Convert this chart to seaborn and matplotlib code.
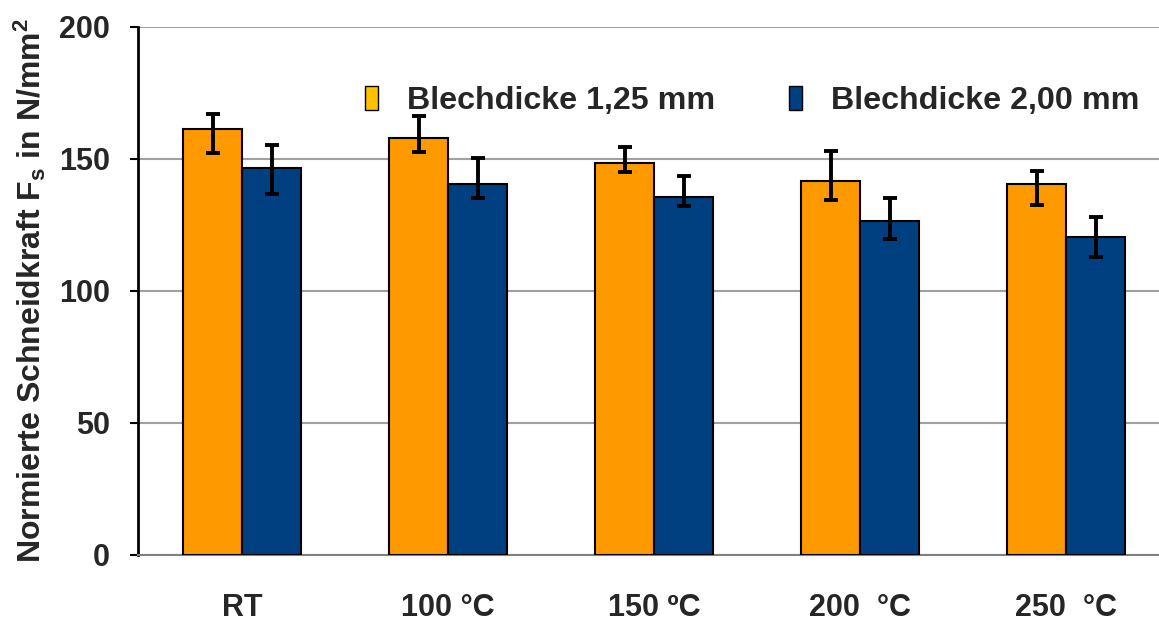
import numpy as np
import pandas as pd
import matplotlib
matplotlib.use("Agg")
import matplotlib.pyplot as plt
from matplotlib.patches import Patch
import seaborn as sns

# ---- data ----
categories = ["RT", "100 °C", "150 ºC", "200  °C", "250  °C"]
series_names = ["Blechdicke 1,25 mm", "Blechdicke 2,00 mm"]
vals_125 = [161.4, 158.1, 148.4, 141.7, 140.5]
hi_125 = [167.0, 166.3, 154.5, 152.9, 145.3]
lo_125 = [152.3, 152.8, 145.0, 134.6, 132.7]
vals_200 = [146.5, 140.5, 135.5, 126.6, 120.6]
hi_200 = [155.3, 150.3, 143.6, 135.3, 128.0]
lo_200 = [136.9, 135.2, 132.2, 119.6, 112.7]
yticks = [0, 50, 100, 150, 200]

bar_colors = ["#FF9900", "#003F80"]
legend_colors = ["#FFC000", "#003F80"]

sns.set_theme(style="white")
plt.rcParams["font.family"] = ["Liberation Sans", "DejaVu Sans"]
plt.rcParams["font.weight"] = "bold"
plt.rcParams["mathtext.fontset"] = "custom"
plt.rcParams["mathtext.rm"] = "Liberation Sans:bold"
plt.rcParams["mathtext.bf"] = "Liberation Sans:bold"
plt.rcParams["mathtext.it"] = "Liberation Sans:bold"
plt.rcParams["mathtext.default"] = "bf"

df = pd.DataFrame({
    "Temperatur": categories * 2,
    "Kraft": vals_125 + vals_200,
    "Serie": [series_names[0]] * 5 + [series_names[1]] * 5,
})

fig = plt.figure(figsize=(11.59, 6.21), dpi=100)
ax = fig.add_axes([138 / 1159, 1 - 555 / 621, (1159 - 138) / 1159, (555 - 27) / 621])

sns.barplot(data=df, x="Temperatur", y="Kraft", hue="Serie", order=categories,
            hue_order=series_names, palette=bar_colors, width=0.573,
            edgecolor="black", linewidth=1.5, errorbar=None, saturation=1,
            legend=False, ax=ax, zorder=3)

for cont, v, lo, hi in zip(ax.containers, [vals_125, vals_200], [lo_125, lo_200], [hi_125, hi_200]):
    xs = [b.get_x() + b.get_width() / 2 for b in cont]
    v = np.array(v); lo = np.array(lo); hi = np.array(hi)
    ax.errorbar(xs, v, yerr=[v - lo, hi - v], fmt="none", ecolor="black",
                elinewidth=2.8, capsize=5, capthick=2.8, zorder=4)

ax.set_ylim(0, 200)
ax.set_xlim(-0.505, 4.45)
ax.set_yticks(yticks)
ax.set_yticklabels([str(t) for t in yticks], fontsize=22, fontweight="bold")
ax.tick_params(axis="y", direction="out", length=6, width=1.5, color="black", pad=14, left=True)
ax.tick_params(axis="x", length=0, pad=27, labelsize=22)
for lab in ax.get_xticklabels():
    lab.set_fontweight("bold")
ax.set_xlabel("")
ax.set_ylabel(r"Normierte Schneidkraft F$_\mathbf{s}$ in N/mm$^\mathbf{2}$",
              fontsize=23, fontweight="bold", labelpad=8)

ax.yaxis.grid(True, color="#A0A0A0", linewidth=1.5, zorder=0)
ax.set_axisbelow(True)
for s in ["top", "right"]:
    ax.spines[s].set_visible(False)
ax.spines["left"].set_color("black")
ax.spines["left"].set_linewidth(2)
ax.spines["bottom"].set_color("#808080")
ax.spines["bottom"].set_linewidth(1.5)

handles = [Patch(facecolor=c, edgecolor="black", linewidth=1) for c in legend_colors]
fig.legend(handles, series_names, loc="center left", bbox_to_anchor=(365 / 1159, 1 - 101 / 621),
           ncol=2, frameon=False, borderpad=0, borderaxespad=0,
           handlelength=0.4, handleheight=0.8, handletextpad=0.9, columnspacing=2.3,
           prop={"size": 23.2, "weight": "bold"})

fig.savefig("out.png", dpi=100)
